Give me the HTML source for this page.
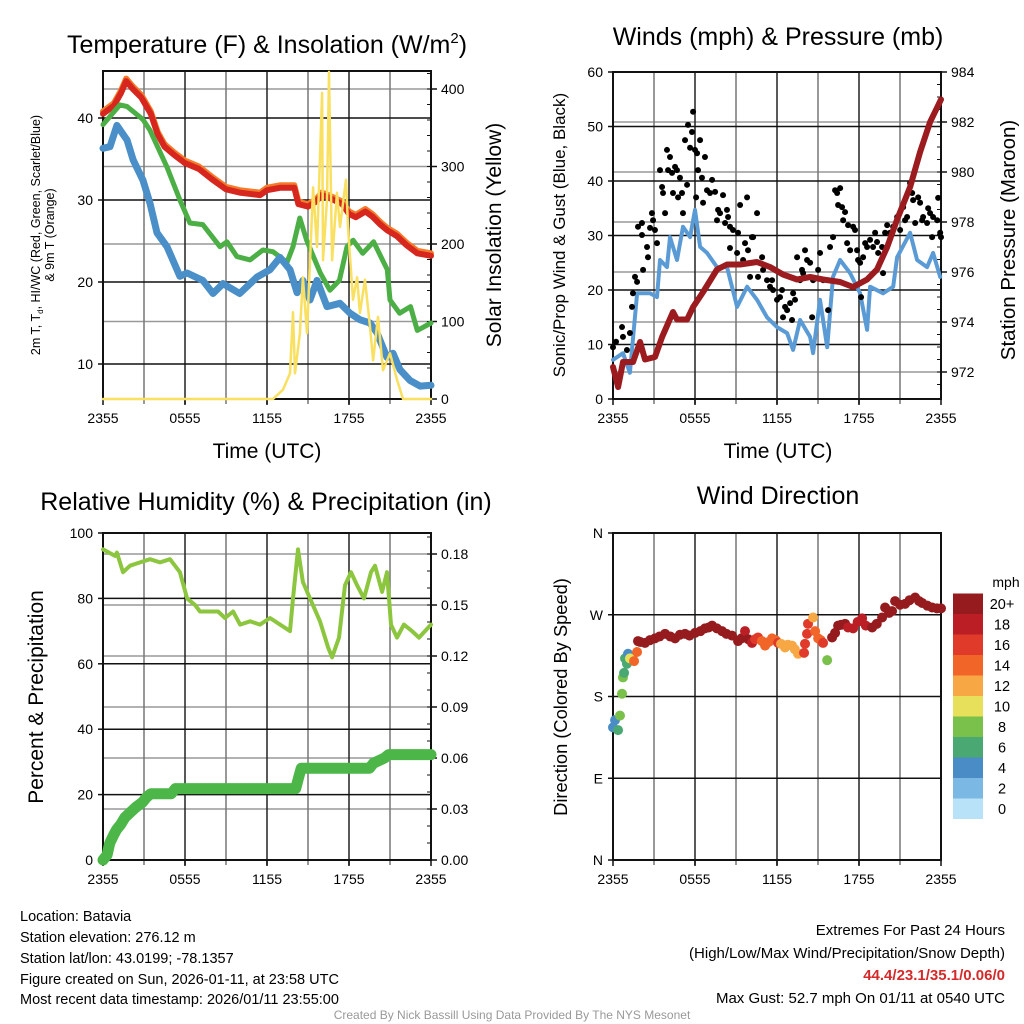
<!DOCTYPE html>
<html><head><meta charset="utf-8"><style>
html,body{margin:0;padding:0;background:#fff}
svg{display:block;font-family:"Liberation Sans",Arial,sans-serif}
</style></head><body>
<svg id="chart" width="1024" height="1024" viewBox="0 0 1024 1024" xmlns="http://www.w3.org/2000/svg">
<rect x="0" y="0" width="1024" height="1024" fill="#fff"/>
<!-- titles -->
<text x="267" y="53" font-size="25" text-anchor="middle">Temperature (F) &amp; Insolation (W/m<tspan font-size="15" dy="-10">2</tspan><tspan dy="10">)</tspan></text>
<text x="778" y="45" font-size="25" text-anchor="middle">Winds (mph) &amp; Pressure (mb)</text>
<text x="266" y="510" font-size="25" text-anchor="middle">Relative Humidity (%) &amp; Precipitation (in)</text>
<text x="778" y="504" font-size="25" text-anchor="middle">Wind Direction</text>
<!-- axis titles -->
<text x="267" y="458" font-size="21" text-anchor="middle">Time (UTC)</text>
<text x="778" y="458" font-size="21" text-anchor="middle">Time (UTC)</text>
<g transform="translate(40,235) rotate(-90)" font-size="12.5" text-anchor="middle">
<text x="0" y="0">2m T, T<tspan font-size="8" dy="3">d</tspan><tspan dy="-3">, HI/WC (Red, Green, Scarlet/Blue)</tspan></text>
<text x="0" y="14">&amp; 9m T (Orange)</text></g>
<text transform="translate(501,235) rotate(-90)" font-size="21" text-anchor="middle">Solar Insolation (Yellow)</text>
<text transform="translate(565,235) rotate(-90)" font-size="17" text-anchor="middle">Sonic/Prop Wind &amp; Gust (Blue, Black)</text>
<text transform="translate(1015,240) rotate(-90)" font-size="20.5" text-anchor="middle">Station Pressure (Maroon)</text>
<text transform="translate(43,697) rotate(-90)" font-size="21" text-anchor="middle">Percent &amp; Precipitation</text>
<text transform="translate(567,697) rotate(-90)" font-size="18.3" text-anchor="middle">Direction (Colored By Speed)</text>
<text x="1006" y="587" font-size="14" text-anchor="middle">mph</text>
<!-- footer -->
<g font-size="14.5">
<text x="20" y="921">Location: Batavia</text>
<text x="20" y="942">Station elevation: 276.12 m</text>
<text x="20" y="963">Station lat/lon: 43.0199; -78.1357</text>
<text x="20" y="984">Figure created on Sun, 2026-01-11, at 23:58 UTC</text>
<text x="20" y="1004">Most recent data timestamp: 2026/01/11 23:55:00</text>
</g>
<g font-size="15" text-anchor="end">
<text x="1005" y="935">Extremes For Past 24 Hours</text>
<text x="1005" y="958">(High/Low/Max Wind/Precipitation/Snow Depth)</text>
<text x="1005" y="980" fill="#d42a2a" font-weight="bold">44.4/23.1/35.1/0.06/0</text>
<text x="1005" y="1003">Max Gust: 52.7 mph On 01/11 at 0540 UTC</text>
</g>
<text x="512" y="1019" font-size="12" fill="#999" text-anchor="middle">Created By Nick Bassill Using Data Provided By The NYS Mesonet</text>
<g id="layer"></g>
</svg>
<script>
// ---------- data ----------
const xTickLabels = ['2355','0555','1155','1755','2355'];
const redHrs = [0,0.8,1.3,1.7,2.2,2.8,3.5,4.0,4.5,5.2,6.0,7.0,8.0,9.0,10.0,11.0,11.5,12.0,13.0,14.0,14.3,15.0,15.6,16.0,16.5,17.5,18.0,18.5,19.2,19.7,20.3,20.8,21.5,22.2,23.0,24];
const redVals = [40.5,41.5,43,44.5,43.5,42.5,40.5,38,36.5,35.5,34.5,33.8,32.5,31.3,30.9,30.7,30.6,31.2,31.5,31.5,29.5,29.2,29.8,30.6,30.3,29.5,28.3,27.9,28.6,28,27,26.3,25.6,24.5,23.5,23.2];
const orangeVals = [40.8,41.8,43.3,44.8,43.8,42.8,40.8,38.3,36.8,35.8,34.8,34.1,32.8,31.6,31.2,31,30.9,31.5,31.8,31.8,29.8,29.5,30.1,30.9,30.6,29.8,28.6,28.2,28.9,28.3,27.3,26.6,25.9,24.8,23.8,23.5];
const greenHrs = [0,1.24,1.76,2.93,3.44,4.68,5.63,6.36,7.3,8.56,9.07,9.8,10.76,11.7,12.44,13.46,13.9,14.4,14.9,15.9,16.6,17.3,17.85,18.3,19,19.8,20.8,21,21.7,22.5,23,24];
const greenVals = [39.2,41.6,41.4,39.8,38.5,34,30,27.2,27,24.3,24.9,23.1,22.7,23.9,23.7,22.4,24.3,27.8,25.1,21.1,19,20.2,24.3,25.1,23.5,24.9,21.5,17.8,16.2,17,14.1,15];
const blueHrs = [0,0.51,1.02,1.76,2.2,2.93,3.44,3.95,4.68,5.63,6.15,7.3,8.05,8.78,10.0,11.27,12.22,12.95,13.68,14.2,14.63,15.15,15.66,16.39,17.34,18.07,18.8,19.54,20.05,20.78,21.22,21.73,22.46,23.2,24];
const blueVals = [36.3,36.5,39.1,37.3,34.9,32.4,29.6,26,24.3,20.7,21.1,20.2,18.6,19.8,18.6,20.6,21.5,23,21.5,18.7,20.2,17.8,20.2,17,17.4,16.2,15.4,15,13.8,10.8,11.3,9.3,8,7.3,7.4];
const solarHrs = [0,12.44,13.17,13.68,13.9,14.05,14.41,14.63,14.93,15.37,15.66,16.03,16.1,16.39,16.54,16.76,17.12,17.34,17.78,17.93,18.29,18.59,18.8,19.17,19.54,19.76,20.12,20.49,21,21.51,21.95,24];
const solarVals = [0,0,12,33,112,33,85,157,85,273,196,395,179,257,422,179,266,222,283,222,128,157,111,154,93,50,106,37,59,25,0,0];
const windHrs = [0,0.73,1.24,1.76,2.71,3.22,3.44,3.95,4.17,4.68,5.12,5.64,6.0,6.37,6.88,7.61,8.34,9.08,9.81,10.54,11.27,12.0,12.74,13.18,13.69,14.42,14.64,15.15,15.67,16.1,16.62,17.35,18.08,18.59,18.81,19.76,20.5,20.79,21.74,22.25,22.98,23.42,23.94];
const windVals = [7.2,8.4,4.8,19.4,19.4,18.7,25.5,24.2,29.7,25.5,31.6,29.7,34.7,27.9,26.8,24.2,24.2,16.9,20.6,18.2,15,13.2,12.1,9,14.5,11.4,8.4,18.2,9.5,22.4,25.5,23.1,19.4,12.7,20.6,19.4,20.6,26,30.5,25.5,24.2,26.8,22.4];
const presHrs = [0,0.37,0.73,1.46,1.98,2.34,3.07,3.59,4.39,4.68,5.42,5.86,6.59,7.61,8.34,9.3,10.54,11.49,12.44,13.47,14.42,15.37,16.62,17.57,18.59,19.32,20.06,20.79,21.74,22.47,23.2,24];
const presVals = [972.2,971.4,972.4,972.4,973.2,972.5,972.6,973.4,974.4,974.1,974.1,974.6,975.2,976.1,976.3,976.3,976.4,976.2,975.9,975.7,975.8,975.7,975.6,975.4,975.7,976.1,977,978.1,979.4,980.8,982,982.9];
const gustHrs = [0,.22,.66,.73,1.02,1.24,1.39,1.46,1.61,1.76,1.83,2.12,2.12,2.2,2.49,2.56,2.71,2.85,2.93,3.07,3.22,3.44,3.59,3.66,3.81,3.95,4.03,4.17,4.32,4.39,4.54,4.68,4.76,4.9,5.05,5.12,5.27,5.42,5.49,5.64,5.78,5.86,6,6.08,6.15,6.22,6.37,6.51,6.59,6.73,6.88,7.1,7.25,7.47,7.61,7.69,7.83,8.05,8.2,8.34,8.42,8.56,8.56,8.78,9.08,9.15,9.3,9.52,9.66,9.81,9.88,10.03,10.17,10.25,10.54,10.61,10.91,10.98,11.27,11.49,11.64,11.71,12,12.22,12.37,12.44,12.59,12.74,12.96,13.1,13.18,13.32,13.47,13.69,13.83,13.91,14.05,14.2,14.42,14.57,14.64,15.01,15.15,15.37,15.74,15.88,16.1,16.25,16.4,16.47,16.62,16.76,16.84,16.98,17.13,17.2,17.35,17.57,17.71,17.86,17.93,18.08,18.15,18.3,18.45,18.59,18.81,19.03,19.18,19.32,19.4,19.69,19.76,19.91,20.06,20.28,20.5,20.79,21.01,21.23,21.37,21.52,21.74,21.89,21.96,22.11,22.33,22.47,22.62,22.69,22.98,23.06,23.2,23.35,23.42,23.72,23.79,23.94,24];
const gustVals = [9.5,10.5,13.2,11.4,9,12.1,16.9,19.4,22.4,21.5,31.6,32.3,30.1,23.7,27.9,26,31.4,34.1,32.8,31,28.6,42,38.9,37.8,34.1,45.7,42,44.4,41.5,37.8,42.6,42,37,40.6,37.8,34.1,47.5,39.3,50.3,46.1,49,52.7,45.7,37,45.1,42,47.5,40.6,36,44.4,38.3,37.8,40.2,38,32.8,34.7,34.1,37.4,32.3,34.7,33.4,31.6,27.7,31,26.8,30.5,35.6,25.5,28.6,37,27.3,22.4,29.7,29.7,34.1,22.4,26,23.7,21.8,20.6,21.8,20,18.2,18.7,20,15,16.9,16.3,17.6,14.5,19.4,18.2,26,21.8,23.7,23.1,27.3,25.5,25,15,21.8,23.7,26.8,21.8,16.3,27.9,29.7,38.3,37.8,35.6,38.7,35.2,32.8,34.3,28.6,31.9,27.3,31.6,31,27.3,25.5,25,18.7,26,28.6,27.9,29.2,27.9,30.5,28.8,26.8,27.9,23.1,30.5,31.9,30.5,31.6,33.4,31,35.2,32.8,33.4,39.6,37.8,36.5,32.3,37,36,32.8,33.4,32.3,35,34.1,29.7,33.4,32.8,36.9,30.5,29.7];
const rhHrs = [0,0.88,1.02,1.46,1.98,2.71,3.44,4.17,4.9,5.63,6.15,6.73,7.1,7.83,8.42,8.93,9.52,10.03,10.76,11.49,12.22,12.95,13.68,13.9,14.27,14.63,15.15,15.88,16.47,16.76,17.27,17.71,18.15,18.59,19.1,19.61,19.9,20.42,20.78,21.07,21.51,22.02,22.61,23.12,24];
const rhVals = [95,93,94,88,90,91,92,91,92,88,80,78,76,76,76,74,76,72,73,72,74,72,70,80,95,85,80,73,65,62,68,84,88,84,80,88,90,82,88,72,68,72,70,68,72];
const precipHrs = [0,0.3,0.5,0.8,1.0,1.3,1.6,2.0,2.4,2.9,3.2,3.5,5.0,5.3,14.1,14.3,14.5,19.5,19.8,20.6,20.9,24];
const precipVals = [0,0.003,0.01,0.015,0.018,0.021,0.025,0.028,0.031,0.034,0.037,0.039,0.039,0.042,0.042,0.048,0.054,0.054,0.057,0.060,0.062,0.062];
const dirHrs = [0,.15,.37,.51,.66,.73,.81,.88,1.02,1.1,1.24,1.54,1.76,1.83,2.0,2.34,2.7,3.07,3.4,3.81,4.2,4.54,4.9,5.27,5.6,6,6.4,6.73,7.0,7.25,7.6,7.98,8.3,8.71,9.15,9.4,9.66,9.9,10.17,10.4,10.61,10.9,11.13,11.4,11.64,11.9,12.08,12.3,12.59,12.8,13.1,13.3,13.54,13.98,14.05,14.2,14.27,14.64,14.79,15.01,15.2,15.37,15.67,16.03,16.25,16.47,16.7,16.98,17.2,17.57,17.9,18.23,18.5,18.96,19.3,19.69,19.91,20.2,20.42,20.64,21.0,21.37,21.7,22.11,22.4,22.62,23.0,23.35,23.7,24];
const dirVals = [146,154,143,159,183,201,206,222,216,227,222,219,229,241,240,239,242,244,246,249,246,244,248,249,247,250,252,255,256,258,255,252,249,247,241,244,252,243,239,243,245,241,236,240,244,242,239,238,234,237,236,232,227,228,238,249,260,267,252,244,242,239,220,245,250,258,259,260,256,255,262,266,258,256,260,267,278,272,274,285,281,282,286,289,285,283,280,278,277,277];
const dirSpeeds = [5,4,6,8,8,8,7,6,6,4,10,14,14,20,20,21,21,21,21,21,21,21,21,21,21,21,21,21,21,21,21,21,21,21,21,20,18,20,18,17,16,15,14,14,14,15,16,13,12,12,12,12,12,16,16,16,16,12,14,14,15,16,8,20,20,20,20,20,19,18,18,18,19,20,20,20,20,20,20,20,20,20,20,20,20,20,20,20,20,20];
const speedBinLabels = ['0','2','4','6','8','10','12','14','16','18','20+'];
const speedColors = ['#b7e2f7','#7cb8e4','#4a8dc6','#4aa873','#7ac14b','#e7e05a','#f7a844','#f26528','#df3a2a','#bb1e24','#951b1e'];

// ---------- helpers ----------
const NS='http://www.w3.org/2000/svg';
const layer=document.getElementById('layer');
function mk(tag,attrs,parent){const e=document.createElementNS(NS,tag);for(const k in attrs)e.setAttribute(k,attrs[k]);(parent||layer).appendChild(e);return e;}
function linScale(d0,d1,r0,r1){return v=>r0+(v-d0)*(r1-r0)/(d1-d0);}
function pathFrom(hrs,vals,xs,ys){return hrs.map((h,i)=>(i?'L':'M')+xs(h).toFixed(1)+','+ys(vals[i]).toFixed(1)).join('');}

const P1={x0:103,x1:431,y0:71,y1:399};
const P2={x0:613,x1:941,y0:72,y1:399};
const P3={x0:103,x1:431,y0:533,y1:860};
const P4={x0:613,x1:941,y0:533,y1:860};

function drawFrame(P,key,leftTicks,leftScale,leftFmt,rightTicks,rightScale,rightFmt,rightMinor){
  const g=mk('g',{});
  
  
  if(rightTicks){rightTicks.forEach(v=>{const y=rightScale(v);if(y<P.y0+1||y>P.y1-1)return;const l=mk('line',{x1:P.x0,x2:P.x1,y1:y,y2:y,stroke:'#999','stroke-width':1.5},g);
    
    });}
  const xs=linScale(0,24,P.x0,P.x1);
  for(let h=3;h<24;h+=3){const l=mk('line',{x1:xs(h),x2:xs(h),y1:P.y0,y2:P.y1+5,stroke:h%6?'#777':'#222','stroke-width':1.5},g);
    
    }
  leftTicks.forEach(v=>{const y=leftScale(v);
    if(y>P.y0+1&&y<P.y1-1){const l=mk('line',{x1:P.x0,x2:P.x1,y1:y,y2:y,stroke:'#111','stroke-width':1.5},g);
      
      }
    mk('line',{x1:P.x0-5,x2:P.x0,y1:y,y2:y,stroke:'#111','stroke-width':1.5},g);
    const t=mk('text',{x:P.x0-10,y:y+5,'font-size':14,'text-anchor':'end'},g);t.textContent=leftFmt(v);
    
    
  });
  if(rightTicks){
    if(rightMinor)rightMinor.forEach(v=>{const y=rightScale(v);if(y<P.y0||y>P.y1)return;mk('line',{x1:P.x1-4,x2:P.x1,y1:y,y2:y,stroke:'#111','stroke-width':1},g);});
    rightTicks.forEach(v=>{const y=rightScale(v);
      mk('line',{x1:P.x1,x2:P.x1+6,y1:y,y2:y,stroke:'#111','stroke-width':1.5},g);
      const t=mk('text',{x:P.x1+10,y:y+5,'font-size':14},g);t.textContent=rightFmt(v);
      
      });
  }
  xTickLabels.forEach((s,i)=>{const x=xs(i*6);
    mk('line',{x1:x,x2:x,y1:P.y1,y2:P.y1+6,stroke:'#111','stroke-width':1.5},g);
    const t=mk('text',{x:x,y:P.y1+24,'font-size':14,'text-anchor':'middle'},g);t.textContent=s;
    
    });
  const r=mk('rect',{x:P.x0,y:P.y0,width:P.x1-P.x0,height:P.y1-P.y0,fill:'none',stroke:'#111','stroke-width':2},g);
  
  
  return xs;
}
function range(a,b,s){const o=[];for(let v=a;v<=b+1e-9;v+=s)o.push(+v.toFixed(4));return o;}
function line(hrs,vals,xs,ys,color,w,name){const p=mk('path',{d:pathFrom(hrs,vals,xs,ys),fill:'none',stroke:color,'stroke-width':w,'stroke-linejoin':'round','stroke-linecap':'round'});
  
  return p;}

// ---------- panel 1 ----------
const t1=linScale(40,30,118,200), s1=linScale(0,400,399,89);
const x1=drawFrame(P1,'temp',[10,20,30,40],t1,v=>v,[0,100,200,300,400],s1,v=>v,range(0,420,20));
line(redHrs,orangeVals,x1,t1,'#f47b2a',6,'temp-9m-orange-line');
line(redHrs,redVals,x1,t1,'#d7261e',6,'temp-2m-red-line');
line(greenHrs,greenVals,x1,t1,'#4caf46',5,'dewpoint-green-line');
line(blueHrs,blueVals,x1,t1,'#4b8fc8',7,'windchill-blue-line');
line(solarHrs,solarVals,x1,s1,'#f9e060',2.5,'solar-yellow-line');

// ---------- panel 2 ----------
const w2=linScale(0,60,399,72), p2=linScale(984,972,72,372);
const x2=drawFrame(P2,'wind',[0,10,20,30,40,50,60],w2,v=>v,[972,974,976,978,980,982,984],p2,v=>v,range(971.5,984,0.5));
line(windHrs,windVals,x2,w2,'#5b9bd5',4,'sustained-wind-line');
gustHrs.forEach((h,i)=>{const c=mk('circle',{cx:x2(h),cy:w2(gustVals[i]),r:3,fill:'#000'});
  
  });
line(presHrs,presVals,x2,p2,'#9b1b1e',6,'pressure-line');

// ---------- panel 3 ----------
const r3=linScale(0,100,860,533), i3=linScale(0,0.03,860,809);
const x3=drawFrame(P3,'rh',[0,20,40,60,80,100],r3,v=>v,[0,0.03,0.06,0.09,0.12,0.15,0.18],i3,v=>v.toFixed(2),range(0,0.19,0.01));
line(rhHrs,rhVals,x3,r3,'#8cc63f',4,'humidity-line');
line(precipHrs,precipVals,x3,i3,'#4cb748',11,'precipitation-line');

// ---------- panel 4 ----------
const d4=linScale(0,360,860,533);
const x4=drawFrame(P4,'direction',[0,90,180,270,360],d4,v=>['N','E','S','W','N'][v/90],null);
dirHrs.forEach((h,i)=>{const idx=Math.min(10,Math.floor(dirSpeeds[i]/2));
  const c=mk('circle',{cx:x4(h),cy:d4(dirVals[i]),r:5,fill:speedColors[idx]});
  
  });
speedColors.forEach((col,i)=>{const y=819-(i+1)*20.5;
  const r=mk('rect',{x:953,y:y,width:30,height:20.5,fill:col});
  
  
  const t=mk('text',{x:1002,y:y+15.5,'font-size':14.5,'text-anchor':'middle'});t.textContent=speedBinLabels[i];
  
  });
</script>
</body></html>
